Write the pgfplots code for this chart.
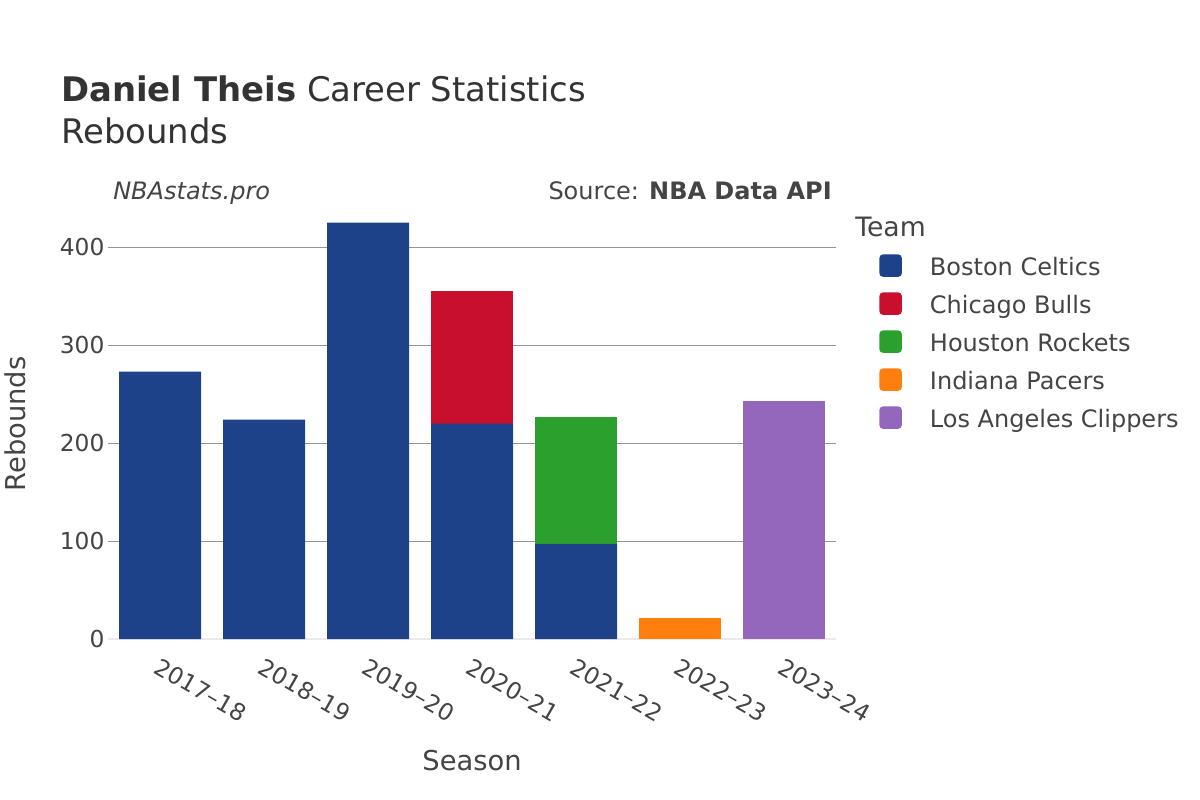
\documentclass[border=0pt]{standalone}
\usepackage{fontspec}
\setmainfont{DejaVu Sans}
\usepackage{pgfplots}
\pgfplotsset{compat=1.18}

\definecolor{txt}{HTML}{444444}
\definecolor{ttl}{HTML}{333333}
\definecolor{celtics}{HTML}{1D428A}
\definecolor{bulls}{HTML}{C8102E}
\definecolor{rockets}{HTML}{2CA02C}
\definecolor{pacers}{HTML}{FF7F0E}
\definecolor{clippers}{HTML}{9467BD}

\newcommand{\fs}[1]{\fontsize{#1}{#1}\selectfont}

\begin{document}
\begin{tikzpicture}
\fill[white] (0,0) rectangle (900pt,-600pt);

\begin{axis}[
  at={(81pt,-479.25pt)}, anchor=south west,
  scale only axis, width=546pt, height=322.5pt,
  xmin=-0.5, xmax=6.5, ymin=0, ymax=439,
  ybar stacked, bar width=61.5pt,
  axis line style={draw=none}, major tick length=0pt,
  xtick={0,...,6},
  xticklabels={2017–18,2018–19,2019–20,2020–21,2021–22,2022–23,2023–24},
  ytick={100,200,300,400},
  extra y ticks={0},
  extra y tick style={grid style={draw=black!8, line width=1.6pt}},
  ymajorgrids,
  grid style={draw=black!42, line width=0.75pt},
  /pgf/number format/assume math mode=true,
  tick label style={font=\fs{17.5}, text=txt},
  yticklabel style={anchor=east, inner sep=0pt, xshift=-2.5pt},
  xticklabel style={rotate=-30, anchor=north west, inner sep=0pt, xshift=7.5pt, yshift=-11pt},
  legend cell align=left,
  legend style={at={(1.0591,0.8953)}, anchor=north west, draw=none, fill=none,
    inner sep=0pt, row sep=8.1pt, column sep=21pt,
    font=\fs{18}, text=txt,
    nodes={inner sep=0pt, text depth=4.5pt, text height=13.5pt}},
  legend image code/.code={\fill[#1, draw=none, rounded corners=3pt] (0pt,-5.6pt) rectangle (17pt,11.4pt);},
]
\addplot[fill=celtics, draw=none] coordinates {(0,273) (1,224) (2,425) (3,220) (4,97) (5,0) (6,0)};
\addlegendentry{Boston Celtics}
\addplot[fill=bulls, draw=none] coordinates {(0,0) (1,0) (2,0) (3,135) (4,0) (5,0) (6,0)};
\addlegendentry{Chicago Bulls}
\addplot[fill=rockets, draw=none] coordinates {(0,0) (1,0) (2,0) (3,0) (4,130) (5,0) (6,0)};
\addlegendentry{Houston Rockets}
\addplot[fill=pacers, draw=none] coordinates {(0,0) (1,0) (2,0) (3,0) (4,0) (5,21) (6,0)};
\addlegendentry{Indiana Pacers}
\addplot[fill=clippers, draw=none] coordinates {(0,0) (1,0) (2,0) (3,0) (4,0) (5,0) (6,243)};
\addlegendentry{Los Angeles Clippers}
\end{axis}

\begin{scope}[x=0.75pt, y=-0.75pt, text=txt]
\node[anchor=base west, inner sep=0pt, font=\fs{25.4}, text=ttl] at (61,101) {\textbf{Daniel Theis} Career Statistics};
\node[anchor=base west, inner sep=0pt, font=\fs{25.4}, text=ttl] at (61,143) {Rebounds};
\node[anchor=base west, inner sep=0pt, font=\fs{18}\itshape] at (113,199) {NBAstats.pro};
\node[anchor=base east, inner sep=0pt, font=\fs{18}] at (832,199) {Source: \textbf{NBA Data API}};
\node[anchor=base west, inner sep=0pt, font=\fs{20}] at (855,236) {Team};
\node[anchor=base, inner sep=0pt, font=\fs{20.5}] at (472,770) {Season};
\node[anchor=base, rotate=90, inner sep=0pt, font=\fs{20.5}] at (26,424) {Rebounds};
\end{scope}
\end{tikzpicture}
\end{document}
